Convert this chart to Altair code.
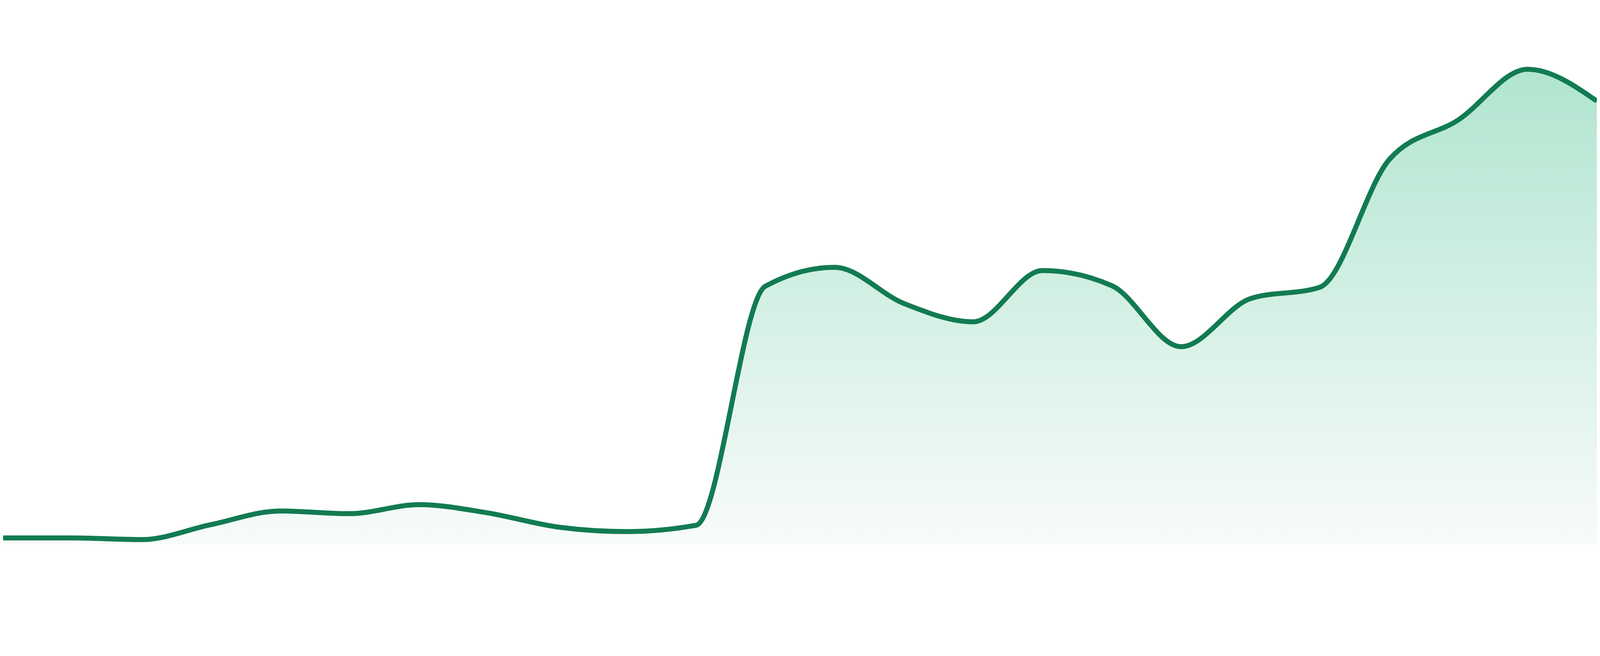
import altair as alt
import pandas as pd

# Sample index (24 evenly spaced observations) and values read from the picture
# (arbitrary units; 0 = area baseline)
idx = list(range(24))
values = [1.17, 1.17, 0.86, 3.63, 6.16, 5.67, 7.33, 5.79, 3.20, 2.34, 3.51,
          47.8, 51.3, 44.6, 41.2, 50.7, 47.9, 36.6, 45.5, 47.6, 71.2, 78.6, 88.0, 82.1]

df = pd.DataFrame({"i": idx, "v": values})

LINE = "#127b52"
x_enc = alt.X("i:Q", axis=None, scale=alt.Scale(domain=[0, 23], nice=False, zero=False))
y_enc = alt.Y("v:Q", axis=None, scale=alt.Scale(domain=[0, 92.2], nice=False))

area = alt.Chart(df).mark_area(
    interpolate="monotone",
    color=alt.Gradient(
        gradient="linear",
        stops=[
            alt.GradientStop(color="#b0e5d0", offset=0),
            alt.GradientStop(color="#f8fbfa", offset=1),
        ],
        x1=1, x2=1, y1=0, y2=1,
    ),
).encode(x=x_enc, y=y_enc)

line = alt.Chart(df).mark_line(
    interpolate="monotone", color=LINE, strokeWidth=15
).encode(x=x_enc, y=y_enc)

chart = (area + line).properties(
    width=4792, height=1497, padding=0, background="white",
    autosize=alt.AutoSizeParams(type="none"),
).configure_view(stroke=None)

chart.save("out.html", embed_options={"renderer": "svg", "actions": False})
